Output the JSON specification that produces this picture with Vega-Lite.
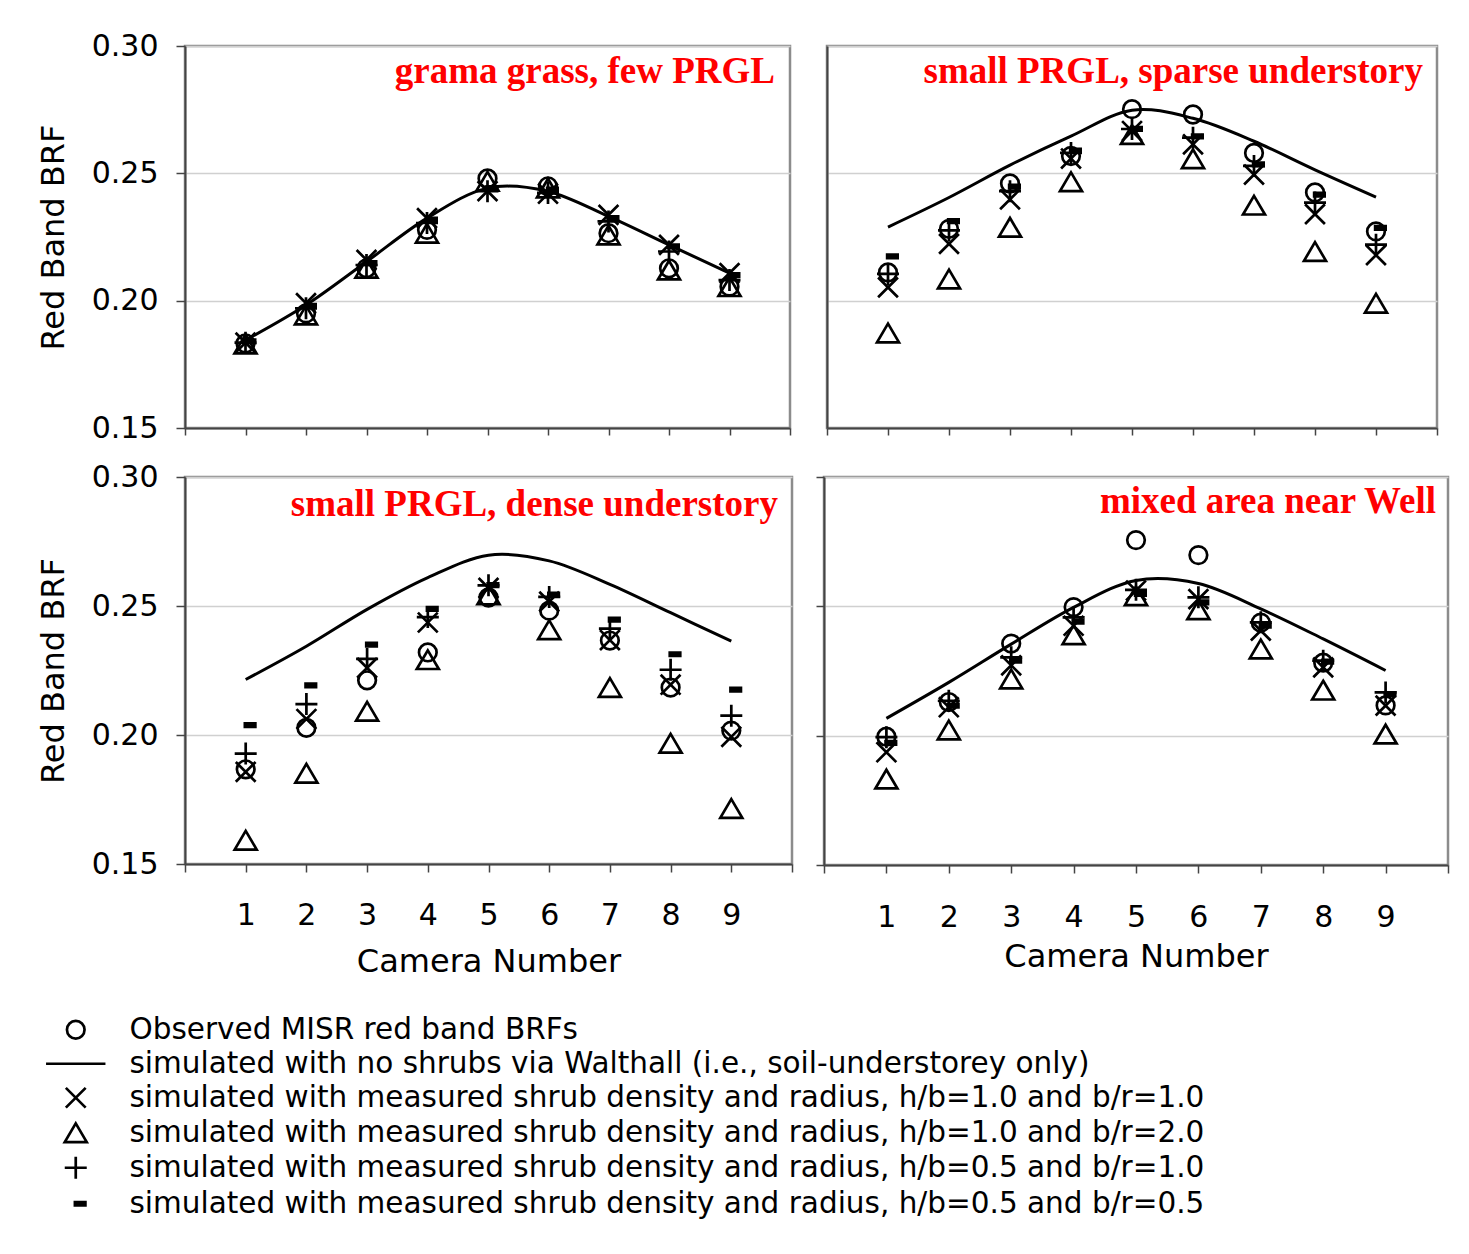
{
  "$schema": "https://vega.github.io/schema/vega-lite/v6.json",
  "background": "white",
  "padding": {"left": 35, "top": 29, "right": 10, "bottom": 10},
  "datasets": {
    "brf": [
      {"panel":"a","series":"line","camera":1,"brf":0.1845},{"panel":"a","series":"line","camera":2,"brf":0.1983},{"panel":"a","series":"line","camera":3,"brf":0.2153},{"panel":"a","series":"line","camera":4,"brf":0.2324},{"panel":"a","series":"line","camera":5,"brf":0.2442},{"panel":"a","series":"line","camera":6,"brf":0.2429},{"panel":"a","series":"line","camera":7,"brf":0.2331},{"panel":"a","series":"line","camera":8,"brf":0.2219},{"panel":"a","series":"line","camera":9,"brf":0.2108},
      {"panel":"a","series":"obs","camera":1,"brf":0.1832},{"panel":"a","series":"obs","camera":2,"brf":0.1950},{"panel":"a","series":"obs","camera":3,"brf":0.2127},{"panel":"a","series":"obs","camera":4,"brf":0.2278},{"panel":"a","series":"obs","camera":5,"brf":0.2480},{"panel":"a","series":"obs","camera":6,"brf":0.2449},{"panel":"a","series":"obs","camera":7,"brf":0.2265},{"panel":"a","series":"obs","camera":8,"brf":0.2127},{"panel":"a","series":"obs","camera":9,"brf":0.2055},
      {"panel":"a","series":"x","camera":1,"brf":0.1835},{"panel":"a","series":"x","camera":2,"brf":0.1990},{"panel":"a","series":"x","camera":3,"brf":0.2160},{"panel":"a","series":"x","camera":4,"brf":0.2324},{"panel":"a","series":"x","camera":5,"brf":0.2430},{"panel":"a","series":"x","camera":6,"brf":0.2420},{"panel":"a","series":"x","camera":7,"brf":0.2337},{"panel":"a","series":"x","camera":8,"brf":0.2219},{"panel":"a","series":"x","camera":9,"brf":0.2108},
      {"panel":"a","series":"tri","camera":1,"brf":0.1830},{"panel":"a","series":"tri","camera":2,"brf":0.1944},{"panel":"a","series":"tri","camera":3,"brf":0.2127},{"panel":"a","series":"tri","camera":4,"brf":0.2265},{"panel":"a","series":"tri","camera":5,"brf":0.2469},{"panel":"a","series":"tri","camera":6,"brf":0.2442},{"panel":"a","series":"tri","camera":7,"brf":0.2258},{"panel":"a","series":"tri","camera":8,"brf":0.2120},{"panel":"a","series":"tri","camera":9,"brf":0.2055},
      {"panel":"a","series":"plus","camera":1,"brf":0.1835},{"panel":"a","series":"plus","camera":2,"brf":0.1970},{"panel":"a","series":"plus","camera":3,"brf":0.2140},{"panel":"a","series":"plus","camera":4,"brf":0.2305},{"panel":"a","series":"plus","camera":5,"brf":0.2430},{"panel":"a","series":"plus","camera":6,"brf":0.2423},{"panel":"a","series":"plus","camera":7,"brf":0.2311},{"panel":"a","series":"plus","camera":8,"brf":0.2193},{"panel":"a","series":"plus","camera":9,"brf":0.2081},
      {"panel":"a","series":"dash","camera":1,"brf":0.1840},{"panel":"a","series":"dash","camera":2,"brf":0.1980},{"panel":"a","series":"dash","camera":3,"brf":0.2147},{"panel":"a","series":"dash","camera":4,"brf":0.2318},{"panel":"a","series":"dash","camera":5,"brf":0.2442},{"panel":"a","series":"dash","camera":6,"brf":0.2436},{"panel":"a","series":"dash","camera":7,"brf":0.2324},{"panel":"a","series":"dash","camera":8,"brf":0.2213},{"panel":"a","series":"dash","camera":9,"brf":0.2100},

      {"panel":"b","series":"line","camera":1,"brf":0.2289},{"panel":"b","series":"line","camera":2,"brf":0.2405},{"panel":"b","series":"line","camera":3,"brf":0.2532},{"panel":"b","series":"line","camera":4,"brf":0.2646},{"panel":"b","series":"line","camera":5,"brf":0.2748},{"panel":"b","series":"line","camera":6,"brf":0.2716},{"panel":"b","series":"line","camera":7,"brf":0.2626},{"panel":"b","series":"line","camera":8,"brf":0.2514},{"panel":"b","series":"line","camera":9,"brf":0.2407},
      {"panel":"b","series":"obs","camera":1,"brf":0.2111},{"panel":"b","series":"obs","camera":2,"brf":0.2282},{"panel":"b","series":"obs","camera":3,"brf":0.2460},{"panel":"b","series":"obs","camera":4,"brf":0.2568},{"panel":"b","series":"obs","camera":5,"brf":0.2752},{"panel":"b","series":"obs","camera":6,"brf":0.2731},{"panel":"b","series":"obs","camera":7,"brf":0.2580},{"panel":"b","series":"obs","camera":8,"brf":0.2425},{"panel":"b","series":"obs","camera":9,"brf":0.2272},
      {"panel":"b","series":"x","camera":1,"brf":0.2052},{"panel":"b","series":"x","camera":2,"brf":0.2223},{"panel":"b","series":"x","camera":3,"brf":0.2398},{"panel":"b","series":"x","camera":4,"brf":0.2558},{"panel":"b","series":"x","camera":5,"brf":0.2666},{"panel":"b","series":"x","camera":6,"brf":0.2614},{"panel":"b","series":"x","camera":7,"brf":0.2495},{"panel":"b","series":"x","camera":8,"brf":0.2340},{"panel":"b","series":"x","camera":9,"brf":0.2179},
      {"panel":"b","series":"tri","camera":1,"brf":0.1873},{"panel":"b","series":"tri","camera":2,"brf":0.2085},{"panel":"b","series":"tri","camera":3,"brf":0.2288},{"panel":"b","series":"tri","camera":4,"brf":0.2467},{"panel":"b","series":"tri","camera":5,"brf":0.2652},{"panel":"b","series":"tri","camera":6,"brf":0.2557},{"panel":"b","series":"tri","camera":7,"brf":0.2375},{"panel":"b","series":"tri","camera":8,"brf":0.2193},{"panel":"b","series":"tri","camera":9,"brf":0.1990},
      {"panel":"b","series":"plus","camera":1,"brf":0.2105},{"panel":"b","series":"plus","camera":2,"brf":0.2276},{"panel":"b","series":"plus","camera":3,"brf":0.2430},{"panel":"b","series":"plus","camera":4,"brf":0.2580},{"panel":"b","series":"plus","camera":5,"brf":0.2674},{"panel":"b","series":"plus","camera":6,"brf":0.2640},{"panel":"b","series":"plus","camera":7,"brf":0.2529},{"panel":"b","series":"plus","camera":8,"brf":0.2385},{"panel":"b","series":"plus","camera":9,"brf":0.2220},
      {"panel":"b","series":"dash","camera":1,"brf":0.2174},{"panel":"b","series":"dash","camera":2,"brf":0.2312},{"panel":"b","series":"dash","camera":3,"brf":0.2448},{"panel":"b","series":"dash","camera":4,"brf":0.2589},{"panel":"b","series":"dash","camera":5,"brf":0.2675},{"panel":"b","series":"dash","camera":6,"brf":0.2645},{"panel":"b","series":"dash","camera":7,"brf":0.2535},{"panel":"b","series":"dash","camera":8,"brf":0.2416},{"panel":"b","series":"dash","camera":9,"brf":0.2286},

      {"panel":"c","series":"line","camera":1,"brf":0.2215},{"panel":"c","series":"line","camera":2,"brf":0.2344},{"panel":"c","series":"line","camera":3,"brf":0.2487},{"panel":"c","series":"line","camera":4,"brf":0.2610},{"panel":"c","series":"line","camera":5,"brf":0.2697},{"panel":"c","series":"line","camera":6,"brf":0.2675},{"panel":"c","series":"line","camera":7,"brf":0.2584},{"panel":"c","series":"line","camera":8,"brf":0.2474},{"panel":"c","series":"line","camera":9,"brf":0.2364},
      {"panel":"c","series":"obs","camera":1,"brf":0.1867},{"panel":"c","series":"obs","camera":2,"brf":0.2028},{"panel":"c","series":"obs","camera":3,"brf":0.2212},{"panel":"c","series":"obs","camera":4,"brf":0.2320},{"panel":"c","series":"obs","camera":5,"brf":0.2533},{"panel":"c","series":"obs","camera":6,"brf":0.2482},{"panel":"c","series":"obs","camera":7,"brf":0.2366},{"panel":"c","series":"obs","camera":8,"brf":0.2184},{"panel":"c","series":"obs","camera":9,"brf":0.2017},
      {"panel":"c","series":"x","camera":1,"brf":0.1857},{"panel":"c","series":"x","camera":2,"brf":0.2062},{"panel":"c","series":"x","camera":3,"brf":0.2260},{"panel":"c","series":"x","camera":4,"brf":0.2436},{"panel":"c","series":"x","camera":5,"brf":0.2570},{"panel":"c","series":"x","camera":6,"brf":0.2517},{"panel":"c","series":"x","camera":7,"brf":0.2368},{"panel":"c","series":"x","camera":8,"brf":0.2195},{"panel":"c","series":"x","camera":9,"brf":0.1993},
      {"panel":"c","series":"tri","camera":1,"brf":0.1592},{"panel":"c","series":"tri","camera":2,"brf":0.1852},{"panel":"c","series":"tri","camera":3,"brf":0.2092},{"panel":"c","series":"tri","camera":4,"brf":0.2292},{"panel":"c","series":"tri","camera":5,"brf":0.2543},{"panel":"c","series":"tri","camera":6,"brf":0.2408},{"panel":"c","series":"tri","camera":7,"brf":0.2184},{"panel":"c","series":"tri","camera":8,"brf":0.1968},{"panel":"c","series":"tri","camera":9,"brf":0.1715},
      {"panel":"c","series":"plus","camera":1,"brf":0.1928},{"panel":"c","series":"plus","camera":2,"brf":0.2120},{"panel":"c","series":"plus","camera":3,"brf":0.2295},{"panel":"c","series":"plus","camera":4,"brf":0.2457},{"panel":"c","series":"plus","camera":5,"brf":0.2580},{"panel":"c","series":"plus","camera":6,"brf":0.2535},{"panel":"c","series":"plus","camera":7,"brf":0.2412},{"panel":"c","series":"plus","camera":8,"brf":0.2253},{"panel":"c","series":"plus","camera":9,"brf":0.2075},
      {"panel":"c","series":"dash","camera":1,"brf":0.2038},{"panel":"c","series":"dash","camera":2,"brf":0.2192},{"panel":"c","series":"dash","camera":3,"brf":0.2350},{"panel":"c","series":"dash","camera":4,"brf":0.2489},{"panel":"c","series":"dash","camera":5,"brf":0.2581},{"panel":"c","series":"dash","camera":6,"brf":0.2544},{"panel":"c","series":"dash","camera":7,"brf":0.2447},{"panel":"c","series":"dash","camera":8,"brf":0.2313},{"panel":"c","series":"dash","camera":9,"brf":0.2176},

      {"panel":"d","series":"line","camera":1,"brf":0.2067},{"panel":"d","series":"line","camera":2,"brf":0.2206},{"panel":"d","series":"line","camera":3,"brf":0.2354},{"panel":"d","series":"line","camera":4,"brf":0.2496},{"panel":"d","series":"line","camera":5,"brf":0.2600},{"panel":"d","series":"line","camera":6,"brf":0.2588},{"panel":"d","series":"line","camera":7,"brf":0.2490},{"panel":"d","series":"line","camera":8,"brf":0.2374},{"panel":"d","series":"line","camera":9,"brf":0.2252},
      {"panel":"d","series":"obs","camera":1,"brf":0.1996},{"panel":"d","series":"obs","camera":2,"brf":0.2130},{"panel":"d","series":"obs","camera":3,"brf":0.2356},{"panel":"d","series":"obs","camera":4,"brf":0.2497},{"panel":"d","series":"obs","camera":5,"brf":0.2756},{"panel":"d","series":"obs","camera":6,"brf":0.2698},{"panel":"d","series":"obs","camera":7,"brf":0.2437},{"panel":"d","series":"obs","camera":8,"brf":0.2282},{"panel":"d","series":"obs","camera":9,"brf":0.2117},
      {"panel":"d","series":"x","camera":1,"brf":0.1936},{"panel":"d","series":"x","camera":2,"brf":0.2110},{"panel":"d","series":"x","camera":3,"brf":0.2272},{"panel":"d","series":"x","camera":4,"brf":0.2425},{"panel":"d","series":"x","camera":5,"brf":0.2561},{"panel":"d","series":"x","camera":6,"brf":0.2528},{"panel":"d","series":"x","camera":7,"brf":0.2406},{"panel":"d","series":"x","camera":8,"brf":0.2264},{"panel":"d","series":"x","camera":9,"brf":0.2116},
      {"panel":"d","series":"tri","camera":1,"brf":0.1832},{"panel":"d","series":"tri","camera":2,"brf":0.2022},{"panel":"d","series":"tri","camera":3,"brf":0.2219},{"panel":"d","series":"tri","camera":4,"brf":0.2390},{"panel":"d","series":"tri","camera":5,"brf":0.2541},{"panel":"d","series":"tri","camera":6,"brf":0.2487},{"panel":"d","series":"tri","camera":7,"brf":0.2335},{"panel":"d","series":"tri","camera":8,"brf":0.2176},{"panel":"d","series":"tri","camera":9,"brf":0.2006},
      {"panel":"d","series":"plus","camera":1,"brf":0.1994},{"panel":"d","series":"plus","camera":2,"brf":0.2135},{"panel":"d","series":"plus","camera":3,"brf":0.2303},{"panel":"d","series":"plus","camera":4,"brf":0.2457},{"panel":"d","series":"plus","camera":5,"brf":0.2564},{"panel":"d","series":"plus","camera":6,"brf":0.2535},{"panel":"d","series":"plus","camera":7,"brf":0.2438},{"panel":"d","series":"plus","camera":8,"brf":0.2290},{"panel":"d","series":"plus","camera":9,"brf":0.2167},
      {"panel":"d","series":"dash","camera":1,"brf":0.1972},{"panel":"d","series":"dash","camera":2,"brf":0.2116},{"panel":"d","series":"dash","camera":3,"brf":0.2290},{"panel":"d","series":"dash","camera":4,"brf":0.2441},{"panel":"d","series":"dash","camera":5,"brf":0.2548},{"panel":"d","series":"dash","camera":6,"brf":0.2515},{"panel":"d","series":"dash","camera":7,"brf":0.2425},{"panel":"d","series":"dash","camera":8,"brf":0.2286},{"panel":"d","series":"dash","camera":9,"brf":0.2161}
    ]
  },
  "data": {"name": "brf"},
  "config": {
    "font": "DejaVu Sans",
    "view": {"stroke": "#8c8c8c", "strokeWidth": 2.5},
    "axis": {"domainColor": "#444444", "domainWidth": 2, "tickColor": "#444444", "tickWidth": 1.5, "labelColor": "black", "titleColor": "black", "labelFont": "DejaVu Sans", "titleFont": "DejaVu Sans", "titleFontWeight": "normal", "gridColor": "#d0d0d0", "gridWidth": 1.5},
    "title": {"font": "Liberation Serif", "fontSize": 37, "fontWeight": "bold", "color": "#ff0000", "anchor": "end", "frame": "group", "baseline": "alphabetic"}
  },
  "resolve": {"scale": {"shape": "shared"}, "legend": {"shape": "shared"}},
  "spacing": 15,
  "vconcat": [
    {
      "spacing": 33,
      "resolve": {"scale": {"shape": "shared"}, "legend": {"shape": "shared"}},
      "hconcat": [
        {
          "width": 605, "height": 382,
          "title": {"text": "grama grass, few PRGL", "offset": -60, "dx": -15},
          "transform": [{"filter": "datum.panel == 'a'"}],
          "layer": [
            {
              "transform": [{"filter": "datum.series == 'line'"}],
              "mark": {"type": "line", "interpolate": "cardinal", "color": "black", "strokeWidth": 3},
              "encoding": {
                "x": {"field": "camera", "type": "quantitative", "scale": {"domain": [0, 10], "nice": false}, "axis": {"values": [0,1,2,3,4,5,6,7,8,9,10], "labels": false, "tickSize": 7, "grid": false, "title": null}},
                "y": {"field": "brf", "type": "quantitative", "scale": {"domain": [0.15, 0.30], "nice": false, "zero": false}, "axis": {"values": [0.15, 0.2, 0.25, 0.3], "format": ".2f", "tickSize": 9, "labelPadding": 18, "labelFontSize": 30, "title": "Red Band BRF", "titleFontSize": 32, "titlePadding": 21}}
              }
            },
            {
              "transform": [{"filter": "datum.series != 'line'"}],
              "mark": {"type": "point", "filled": false, "size": 484, "strokeWidth": 2.7, "color": "black", "opacity": 1},
              "encoding": {
                "x": {"field": "camera", "type": "quantitative"},
                "y": {"field": "brf", "type": "quantitative"},
                "shape": {
                  "field": "series", "type": "nominal",
                  "scale": {
                    "domain": ["obs", "line", "x", "tri", "plus", "dash"],
                    "range": ["M0.8,0A0.8,0.8 0 1,1 -0.8,0A0.8,0.8 0 1,1 0.8,0Z", "M-2.7,0L2.7,0", "M-0.9,-0.9L0.9,0.9M-0.9,0.9L0.9,-0.9", "M0,-0.85L1,0.85L-1,0.85Z", "M-1,0L1,0M0,-1L0,1", "M-0.2,-0.16L1,-0.16M-0.2,0L1,0M-0.2,0.16L1,0.16"]
                  },
                  "legend": {
                    "orient": "none", "legendX": -124, "legendY": 969, "direction": "vertical", "title": null,
                    "labelFontSize": 29.5, "labelFont": "DejaVu Sans", "labelColor": "black", "labelLimit": 1300,
                    "symbolSize": 484, "symbolStrokeWidth": 2.7, "symbolStrokeColor": "black", "labelOffset": 39, "rowPadding": 3,
                    "labelExpr": "datum.label == 'obs' ? 'Observed MISR red band BRFs' : datum.label == 'line' ? 'simulated with no shrubs via Walthall (i.e., soil-understorey only)' : datum.label == 'x' ? 'simulated with measured shrub density and radius, h/b=1.0 and b/r=1.0' : datum.label == 'tri' ? 'simulated with measured shrub density and radius, h/b=1.0 and b/r=2.0' : datum.label == 'plus' ? 'simulated with measured shrub density and radius, h/b=0.5 and b/r=1.0' : 'simulated with measured shrub density and radius, h/b=0.5 and b/r=0.5'"
                  }
                }
              }
            }
          ]
        },
        {
          "width": 610, "height": 382,
          "title": {"text": "small PRGL, sparse understory", "offset": -45, "dx": -14},
          "transform": [{"filter": "datum.panel == 'b'"}],
          "layer": [
            {
              "transform": [{"filter": "datum.series == 'line'"}],
              "mark": {"type": "line", "interpolate": "cardinal", "color": "black", "strokeWidth": 3},
              "encoding": {
                "x": {"field": "camera", "type": "quantitative", "scale": {"domain": [0, 10], "nice": false}, "axis": {"values": [0,1,2,3,4,5,6,7,8,9,10], "labels": false, "tickSize": 7, "grid": false, "title": null}},
                "y": {"field": "brf", "type": "quantitative", "scale": {"domain": [0.15, 0.30], "nice": false, "zero": false}, "axis": {"values": [0.15, 0.2, 0.25, 0.3], "labels": false, "ticks": false, "title": null}}
              }
            },
            {
              "transform": [{"filter": "datum.series != 'line'"}],
              "mark": {"type": "point", "filled": false, "size": 484, "strokeWidth": 2.7, "color": "black", "opacity": 1},
              "encoding": {
                "x": {"field": "camera", "type": "quantitative"},
                "y": {"field": "brf", "type": "quantitative"},
                "shape": {"field": "series", "type": "nominal"}
              }
            }
          ]
        }
      ]
    },
    {
      "spacing": 20,
      "resolve": {"scale": {"shape": "shared"}, "legend": {"shape": "shared"}},
      "hconcat": [
        {
          "width": 607, "height": 387,
          "title": {"text": "small PRGL, dense understory", "offset": -62, "dx": -14},
          "transform": [{"filter": "datum.panel == 'c'"}],
          "layer": [
            {
              "transform": [{"filter": "datum.series == 'line'"}],
              "mark": {"type": "line", "interpolate": "cardinal", "color": "black", "strokeWidth": 3},
              "encoding": {
                "x": {"field": "camera", "type": "quantitative", "scale": {"domain": [0, 10], "nice": false}, "axis": {"values": [0,1,2,3,4,5,6,7,8,9,10], "labelExpr": "datum.value >= 1 && datum.value <= 9 ? datum.value : ''", "labelFontSize": 30, "labelPadding": 28, "tickSize": 8, "grid": false, "title": "Camera Number", "titleFontSize": 32, "titlePadding": 16}},
                "y": {"field": "brf", "type": "quantitative", "scale": {"domain": [0.15, 0.30], "nice": false, "zero": false}, "axis": {"values": [0.15, 0.2, 0.25, 0.3], "format": ".2f", "tickSize": 9, "labelPadding": 18, "labelFontSize": 30, "title": "Red Band BRF", "titleFontSize": 32, "titlePadding": 21}}
              }
            },
            {
              "transform": [{"filter": "datum.series != 'line'"}],
              "mark": {"type": "point", "filled": false, "size": 484, "strokeWidth": 2.7, "color": "black", "opacity": 1},
              "encoding": {
                "x": {"field": "camera", "type": "quantitative"},
                "y": {"field": "brf", "type": "quantitative"},
                "shape": {"field": "series", "type": "nominal"}
              }
            }
          ]
        },
        {
          "width": 624, "height": 388,
          "title": {"text": "mixed area near Well", "offset": -45, "dx": -12},
          "transform": [{"filter": "datum.panel == 'd'"}],
          "layer": [
            {
              "transform": [{"filter": "datum.series == 'line'"}],
              "mark": {"type": "line", "interpolate": "cardinal", "color": "black", "strokeWidth": 3},
              "encoding": {
                "x": {"field": "camera", "type": "quantitative", "scale": {"domain": [0, 10], "nice": false}, "axis": {"values": [0,1,2,3,4,5,6,7,8,9,10], "labelExpr": "datum.value >= 1 && datum.value <= 9 ? datum.value : ''", "labelFontSize": 30, "labelPadding": 29, "tickSize": 8, "grid": false, "title": "Camera Number", "titleFontSize": 32, "titlePadding": 9}},
                "y": {"field": "brf", "type": "quantitative", "scale": {"domain": [0.15, 0.30], "nice": false, "zero": false}, "axis": {"values": [0.15, 0.2, 0.25, 0.3], "labels": false, "tickSize": 8, "title": null}}
              }
            },
            {
              "transform": [{"filter": "datum.series != 'line'"}],
              "mark": {"type": "point", "filled": false, "size": 484, "strokeWidth": 2.7, "color": "black", "opacity": 1},
              "encoding": {
                "x": {"field": "camera", "type": "quantitative"},
                "y": {"field": "brf", "type": "quantitative"},
                "shape": {"field": "series", "type": "nominal"}
              }
            }
          ]
        }
      ]
    }
  ]
}
